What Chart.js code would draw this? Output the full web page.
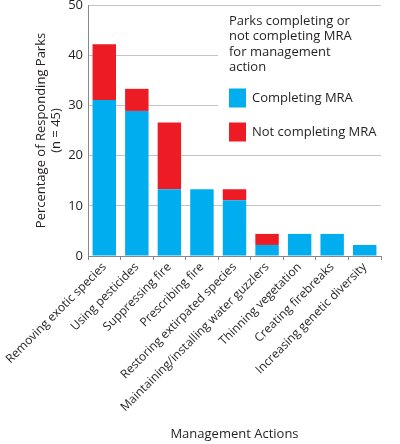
<!DOCTYPE html>
<html>
<head>
<meta charset="utf-8">
<script src="https://cdn.jsdelivr.net/npm/chart.js@4"></script>
<style>
html,body{margin:0;padding:0;background:#fff;}
#wrap{width:400px;height:444px;position:relative;}
</style>
</head>
<body>
<div id="wrap"><canvas id="c" width="400" height="444"></canvas></div>
<script>
const categories = [
  "Removing exotic species",
  "Using pesticides",
  "Suppressing fire",
  "Prescribing fire",
  "Restoring extirpated species",
  "Maintaining/installing water guzzlers",
  "Thinning vegetation",
  "Creating firebreaks",
  "Increasing genetic diversity"
];
const completingMRA = [31.1, 28.9, 13.3, 13.3, 11.1, 2.2, 4.4, 4.4, 2.2];
const notCompletingMRA = [11.1, 4.4, 13.3, null, 2.2, 2.2, null, null, null];
const yTicks = [0, 10, 20, 30, 40, 50];
const legendTitle = ["Parks completing or", "not completing MRA", "for management", "action"];
const seriesNames = ["Completing MRA", "Not completing MRA"];
const seriesColors = ["#00aeef", "#ed1c24"];

const FONT = "'Open Sans', 'Noto Sans', sans-serif";
const TXT = "#231f20";
Chart.defaults.font.family = FONT;
Chart.defaults.color = TXT;

const legendPlugin = {
  id: 'insideLegend',
  afterDraw(chart) {
    const ctx = chart.ctx;
    ctx.save();
    ctx.fillStyle = '#fff';
    ctx.fillRect(218, 10, 170, 140);
    ctx.fillStyle = TXT;
    ctx.font = "13px " + FONT;
    ctx.textBaseline = 'middle';
    ctx.textAlign = 'left';
    legendTitle.forEach((t, i) => ctx.fillText(t, 229, 21 + i * 15.4));
    const ys = [98, 132];
    chart.data.datasets.forEach((ds, i) => {
      ctx.fillStyle = ds.backgroundColor;
      ctx.fillRect(229, ys[i] - 9.5, 17, 19);
      ctx.fillStyle = TXT;
      ctx.fillText(ds.label, 252, ys[i]);
    });
    ctx.restore();
  }
};

new Chart(document.getElementById('c'), {
  type: 'bar',
  data: {
    labels: categories,
    datasets: [
      { label: seriesNames[0], data: completingMRA, backgroundColor: seriesColors[0], barPercentage: 0.72, categoryPercentage: 1 },
      { label: seriesNames[1], data: notCompletingMRA, backgroundColor: seriesColors[1], barPercentage: 0.72, categoryPercentage: 1 }
    ]
  },
  options: {
    responsive: false,
    animation: false,
    devicePixelRatio: 1,
    layout: { padding: { top: 5, right: 19, left: 0, bottom: 0 } },
    plugins: { legend: { display: false }, tooltip: { enabled: false } },
    scales: {
      x: {
        stacked: true,
        offset: true,
        grid: { display: true, drawOnChartArea: false, offset: true, tickLength: 4, color: '#888' },
        border: { color: '#888' },
        ticks: { minRotation: 45, maxRotation: 45, autoSkip: false, font: { size: 12 }, color: TXT, padding: 0 },
        title: { display: true, text: 'Management Actions', font: { size: 13 }, color: TXT, padding: { top: 4, bottom: 2 } },
        afterFit(s) { s.height = 188; s.paddingLeft = 0; s.paddingRight = 0; }
      },
      y: {
        stacked: true,
        min: 0, max: 50,
        afterBuildTicks(s) { s.ticks = yTicks.map(v => ({ value: v })); },
        grid: { color: '#c4c4c4', drawTicks: false },
        border: { color: '#888' },
        ticks: { font: { size: 13 }, color: TXT, padding: 5 },
        title: { display: true, text: ['Percentage of Responding Parks', '(n = 45)'], font: { size: 13, lineHeight: 1.2 }, color: TXT, padding: { top: 33, bottom: 0 } },
        afterFit(s) { s.width = 88; s.paddingTop = 0; s.paddingBottom = 0; }
      }
    }
  },
  plugins: [legendPlugin]
});
</script>
</body>
</html>
